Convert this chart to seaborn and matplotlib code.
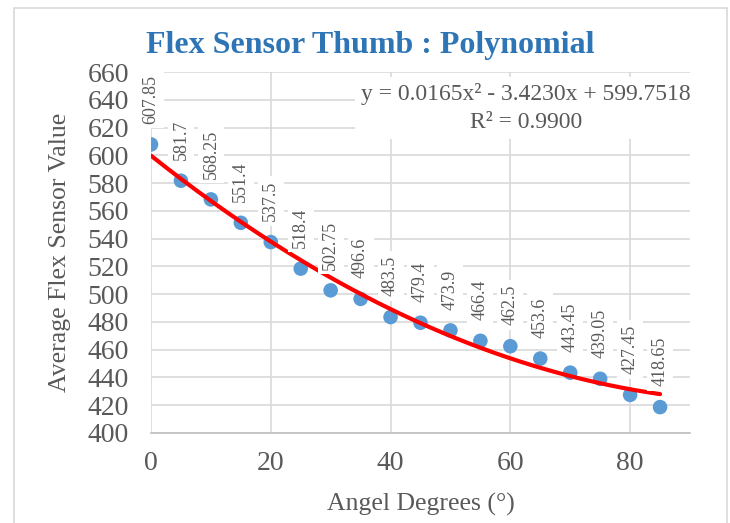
import numpy as np
import pandas as pd
import matplotlib
matplotlib.use("Agg")
import matplotlib.pyplot as plt
from matplotlib.patches import Rectangle
import seaborn as sns

# Average sensor readings per bend angle
angles = [0, 5, 10, 15, 20, 25, 30, 35, 40, 45, 50, 55, 60, 65, 70, 75, 80, 85]
readings = [607.85, 581.7, 568.25, 551.4, 537.5, 518.4, 502.75, 496.6, 483.5,
            479.4, 473.9, 466.4, 462.5, 453.6, 443.45, 439.05, 427.45, 418.65]
labels = ["607.85", "581.7", "568.25", "551.4", "537.5", "518.4", "502.75", "496.6",
          "483.5", "479.4", "473.9", "466.4", "462.5", "453.6", "443.45", "439.05",
          "427.45", "418.65"]

# Second-order trendline coefficients
coef_a, coef_b, coef_c = 0.0165, -3.4230, 599.7518
r_squared = 0.9900

df = pd.DataFrame({"angle": angles, "value": readings})
trend_x = np.linspace(0, 85, 200)
trend = pd.DataFrame({"angle": trend_x,
                      "value": coef_a * trend_x**2 + coef_b * trend_x + coef_c})

sns.set_theme(style="whitegrid")
plt.rcParams["font.family"] = ["Liberation Serif", "DejaVu Serif"]
grey = "#595959"

fig = plt.figure(figsize=(7.3, 5.23), dpi=100)
ax = fig.add_axes([151 / 730, 1 - 433 / 523, (690 - 151) / 730, (433 - 72) / 523])

# chart border
fig.patches.append(Rectangle((14 / 730, -0.01), (727 - 14) / 730, 1 - 8 / 523 + 0.01,
                             transform=fig.transFigure, fill=False,
                             edgecolor="#d9d9d9", linewidth=1.2))

sns.scatterplot(data=df, x="angle", y="value", ax=ax, color="#5b9bd5",
                s=110, edgecolor="none", zorder=3)
sns.lineplot(data=trend, x="angle", y="value", ax=ax, color="#ff0000",
             linewidth=3, zorder=4)

for x, y, lab in zip(angles, readings, labels):
    ax.annotate(lab, (x, y), xytext=(0, 15), textcoords="offset points",
                rotation=90, ha="center", va="bottom", fontsize=13, color=grey,
                bbox=dict(boxstyle="square,pad=0.25", fc="white", ec="none"),
                zorder=5)

ax.set_xlim(0, 90)
ax.set_ylim(400, 660)
ax.set_xticks([0, 20, 40, 60, 80])
ax.set_yticks(np.arange(400, 661, 20))
ax.grid(True, color="#d9d9d9", linewidth=1.2)
ax.set_axisbelow(True)
for side in ["left", "right", "top"]:
    ax.spines[side].set_visible(False)
ax.spines["bottom"].set_color("#bfbfbf")
ax.spines["bottom"].set_linewidth(1.2)
ax.tick_params(axis="both", length=0, labelsize=20, labelcolor=grey)
ax.tick_params(axis="x", pad=13)
ax.tick_params(axis="y", pad=16)

ax.set_xlabel("Angel Degrees (°)", fontsize=18.5, color=grey, labelpad=12)
ax.set_ylabel("Average Flex Sensor Value", fontsize=18.5, color=grey, labelpad=12)

fig.text(370 / 730, 1 - 45 / 523, "Flex Sensor Thumb : Polynomial",
         ha="center", va="center", fontsize=23, fontweight="bold", color="#2e75b6")

eq = f"y = {coef_a:.4f}x² - {abs(coef_b):.4f}x + {coef_c:.4f}\nR² = {r_squared:.4f}"
ax.text((526 - 151) / 539, 1 - (83 - 72) / 361, eq, transform=ax.transAxes,
        ha="center", va="top", fontsize=17, color=grey, linespacing=1.45, zorder=6,
        bbox=dict(boxstyle="square,pad=0.25", fc="white", ec="none"))

fig.savefig("out.png", dpi=100)
